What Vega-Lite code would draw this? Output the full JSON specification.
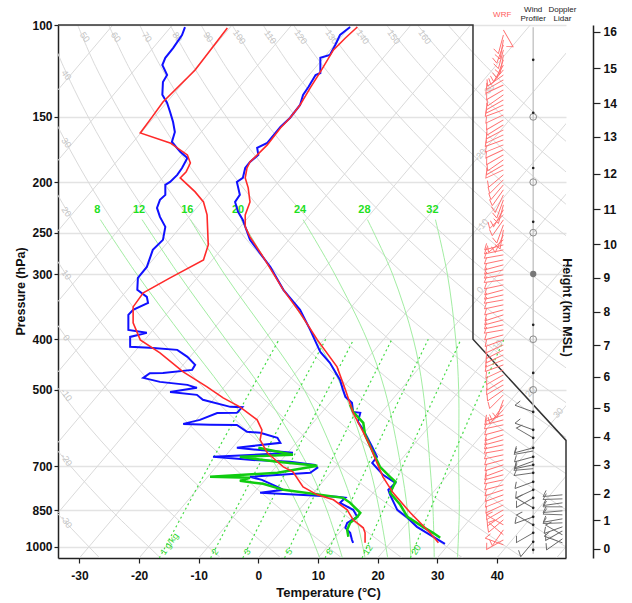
{
"$schema": "https://vega.github.io/schema/vega-lite/v6.json",
"width": 508, "height": 533,
"autosize": "none",
"padding": {"left": 58, "top": 25, "right": 66, "bottom": 45},
"background": "white",
"config": {
 "view": {"stroke": null},
 "font": "Liberation Sans",
 "axis": {"labelFont": "Liberation Sans", "titleFont": "Liberation Sans", "labelFontWeight": "bold", "labelFontSize": 12, "labelColor": "#111111", "titleFontWeight": "bold", "titleFontSize": 12.5, "titleColor": "#111111", "domainColor": "#222222", "domainWidth": 1.5, "tickColor": "#222222", "tickWidth": 1.2}
},
"datasets": {
 "iso": [
  {"T":-100,"p":1050,"u":-100},{"T":-100,"p":100,"u":-24.4},
  {"T":-90,"p":1050,"u":-90},{"T":-90,"p":100,"u":-14.4},
  {"T":-80,"p":1050,"u":-80},{"T":-80,"p":100,"u":-4.4},
  {"T":-70,"p":1050,"u":-70},{"T":-70,"p":100,"u":5.6},
  {"T":-60,"p":1050,"u":-60},{"T":-60,"p":100,"u":15.6},
  {"T":-50,"p":1050,"u":-50},{"T":-50,"p":100,"u":25.6},
  {"T":-40,"p":1050,"u":-40},{"T":-40,"p":100,"u":35.6},
  {"T":-30,"p":1050,"u":-30},{"T":-30,"p":100,"u":45.6},
  {"T":-20,"p":1050,"u":-20},{"T":-20,"p":100,"u":55.6},
  {"T":-10,"p":1050,"u":-10},{"T":-10,"p":100,"u":65.6},
  {"T":0,"p":1050,"u":0},{"T":0,"p":100,"u":75.6},
  {"T":10,"p":1050,"u":10},{"T":10,"p":100,"u":85.6},
  {"T":20,"p":1050,"u":20},{"T":20,"p":100,"u":95.6},
  {"T":30,"p":1050,"u":30},{"T":30,"p":100,"u":105.6},
  {"T":40,"p":1050,"u":40},{"T":40,"p":100,"u":115.6},
  {"T":50,"p":1050,"u":50},{"T":50,"p":100,"u":125.6}
 ],
 "isolab": [
  {"lab":"-30","p":133.2,"u":38.6},{"lab":"-20","p":177.4,"u":37.2},{"lab":"-10","p":241.5,"u":37.6},{"lab":"0","p":321.7,"u":37.2},
  {"lab":"10","p":410.0,"u":40.1},{"lab":"20","p":504.5,"u":45.6},{"lab":"30","p":553.5,"u":50.3}
 ],
 "dry": [
  {"th":-30,"p":1050,"u":-26.6},{"th":-30,"p":850,"u":-34.2},{"th":-30,"p":700,"u":-40.5},
  {"th":-20,"p":1050,"u":-16.4},{"th":-20,"p":850,"u":-24.7},{"th":-20,"p":700,"u":-31.5},{"th":-20,"p":550,"u":-39.0},
  {"th":-10,"p":1050,"u":-6.3},{"th":-10,"p":850,"u":-15.2},{"th":-10,"p":700,"u":-22.5},{"th":-10,"p":550,"u":-30.6},{"th":-10,"p":400,"u":-39.6},
  {"th":0,"p":1050,"u":3.8},{"th":0,"p":850,"u":-5.6},{"th":0,"p":700,"u":-13.5},{"th":0,"p":550,"u":-22.2},{"th":0,"p":400,"u":-32.0},{"th":0,"p":300,"u":-39.3},
  {"th":10,"p":1050,"u":14.0},{"th":10,"p":850,"u":3.9},{"th":10,"p":700,"u":-4.4},{"th":10,"p":550,"u":-13.7},{"th":10,"p":400,"u":-24.2},{"th":10,"p":300,"u":-32.3},{"th":10,"p":220,"u":-39.3},
  {"th":20,"p":1050,"u":24.1},{"th":20,"p":850,"u":13.5},{"th":20,"p":700,"u":4.6},{"th":20,"p":550,"u":-5.3},{"th":20,"p":400,"u":-16.5},{"th":20,"p":300,"u":-25.2},{"th":20,"p":220,"u":-32.8},{"th":20,"p":160,"u":-39.1},
  {"th":30,"p":1050,"u":34.3},{"th":30,"p":850,"u":23.0},{"th":30,"p":700,"u":13.6},{"th":30,"p":550,"u":3.1},{"th":30,"p":400,"u":-8.8},{"th":30,"p":300,"u":-18.1},{"th":30,"p":220,"u":-26.3},{"th":30,"p":160,"u":-33.2},{"th":30,"p":120,"u":-38.2},
  {"th":40,"p":1050,"u":44.4},{"th":40,"p":850,"u":32.6},{"th":40,"p":700,"u":22.6},{"th":40,"p":550,"u":11.6},{"th":40,"p":400,"u":-1.1},{"th":40,"p":300,"u":-11.0},{"th":40,"p":220,"u":-19.8},{"th":40,"p":160,"u":-27.2},{"th":40,"p":120,"u":-32.7},{"th":40,"p":100,"u":-35.5},
  {"th":50,"p":1050,"u":54.5},{"th":50,"p":850,"u":42.1},{"th":50,"p":700,"u":31.7},{"th":50,"p":550,"u":20.0},{"th":50,"p":400,"u":6.5},{"th":50,"p":300,"u":-3.9},{"th":50,"p":220,"u":-13.4},{"th":50,"p":160,"u":-21.3},{"th":50,"p":120,"u":-27.3},{"th":50,"p":100,"u":-30.3},
  {"th":60,"p":1050,"u":64.7},{"th":60,"p":850,"u":51.7},{"th":60,"p":700,"u":40.7},{"th":60,"p":550,"u":28.4},{"th":60,"p":400,"u":14.2},{"th":60,"p":300,"u":3.2},{"th":60,"p":220,"u":-6.9},{"th":60,"p":160,"u":-15.4},{"th":60,"p":120,"u":-21.8},{"th":60,"p":100,"u":-25.1},
  {"th":70,"p":850,"u":61.2},{"th":70,"p":700,"u":49.7},{"th":70,"p":550,"u":36.8},{"th":70,"p":400,"u":21.9},{"th":70,"p":300,"u":10.3},{"th":70,"p":220,"u":-0.4},{"th":70,"p":160,"u":-9.5},{"th":70,"p":120,"u":-16.4},{"th":70,"p":100,"u":-19.9},
  {"th":80,"p":700,"u":58.8},{"th":80,"p":550,"u":45.3},{"th":80,"p":400,"u":29.6},{"th":80,"p":300,"u":17.3},{"th":80,"p":220,"u":6.1},{"th":80,"p":160,"u":-3.6},{"th":80,"p":120,"u":-10.9},{"th":80,"p":100,"u":-14.8},
  {"th":90,"p":700,"u":67.8},{"th":90,"p":550,"u":53.7},{"th":90,"p":400,"u":37.3},{"th":90,"p":300,"u":24.4},{"th":90,"p":220,"u":12.6},{"th":90,"p":160,"u":2.4},{"th":90,"p":120,"u":-5.5},{"th":90,"p":100,"u":-9.6},
  {"th":100,"p":550,"u":62.1},{"th":100,"p":400,"u":45.0},{"th":100,"p":300,"u":31.5},{"th":100,"p":220,"u":19.1},{"th":100,"p":160,"u":8.3},{"th":100,"p":120,"u":0.0},{"th":100,"p":100,"u":-4.4},
  {"th":110,"p":550,"u":70.6},{"th":110,"p":400,"u":52.7},{"th":110,"p":300,"u":38.6},{"th":110,"p":220,"u":25.6},{"th":110,"p":160,"u":14.2},{"th":110,"p":120,"u":5.4},{"th":110,"p":100,"u":0.8},
  {"th":120,"p":400,"u":60.4},{"th":120,"p":300,"u":45.7},{"th":120,"p":220,"u":32.0},{"th":120,"p":160,"u":20.1},{"th":120,"p":120,"u":10.9},{"th":120,"p":100,"u":5.9},
  {"th":130,"p":400,"u":68.1},{"th":130,"p":300,"u":52.8},{"th":130,"p":220,"u":38.5},{"th":130,"p":160,"u":26.0},{"th":130,"p":120,"u":16.4},{"th":130,"p":100,"u":11.1},
  {"th":140,"p":300,"u":59.9},{"th":140,"p":220,"u":45.0},{"th":140,"p":160,"u":32.0},{"th":140,"p":120,"u":21.8},{"th":140,"p":100,"u":16.3},
  {"th":150,"p":300,"u":66.9},{"th":150,"p":220,"u":51.5},{"th":150,"p":160,"u":37.9},{"th":150,"p":120,"u":27.3},{"th":150,"p":100,"u":21.5},
  {"th":160,"p":220,"u":58.0},{"th":160,"p":160,"u":43.8},{"th":160,"p":120,"u":32.7},{"th":160,"p":100,"u":26.7},
  {"th":170,"p":220,"u":64.5},{"th":170,"p":160,"u":49.7},{"th":170,"p":120,"u":38.2},{"th":170,"p":100,"u":31.8}
 ],
 "drylab": [
  {"lab":"40","p":124.7},{"lab":"30","p":168.2},{"lab":"20","p":228.0},{"lab":"10","p":301.1},
  {"lab":"0","p":397.6},{"lab":"-10","p":511.2},{"lab":"-20","p":681.0},{"lab":"-30","p":895.2}
 ],
 "moist": [
  {"tw":8,"p":1050,"u":10.3},{"tw":8,"p":850,"u":7.0},{"tw":8,"p":700,"u":3.0},{"tw":8,"p":500,"u":-5.8},{"tw":8,"p":400,"u":-12.3},{"tw":8,"p":300,"u":-20.4},{"tw":8,"p":236,"u":-26.5},
  {"tw":12,"p":1050,"u":14.1},{"tw":12,"p":850,"u":11.5},{"tw":12,"p":700,"u":8.3},{"tw":12,"p":500,"u":0.7},{"tw":12,"p":400,"u":-5.5},{"tw":12,"p":300,"u":-13.4},{"tw":12,"p":236,"u":-19.5},
  {"tw":16,"p":1050,"u":17.9},{"tw":16,"p":850,"u":16.1},{"tw":16,"p":700,"u":13.5},{"tw":16,"p":500,"u":7.7},{"tw":16,"p":400,"u":2.1},{"tw":16,"p":300,"u":-5.7},{"tw":16,"p":236,"u":-11.4},
  {"tw":20,"p":1050,"u":21.7},{"tw":20,"p":850,"u":20.3},{"tw":20,"p":700,"u":18.6},{"tw":20,"p":500,"u":14.2},{"tw":20,"p":400,"u":9.7},{"tw":20,"p":300,"u":2.6},{"tw":20,"p":236,"u":-2.9},
  {"tw":24,"p":1050,"u":25.6},{"tw":24,"p":850,"u":25.0},{"tw":24,"p":700,"u":23.9},{"tw":24,"p":500,"u":21.2},{"tw":24,"p":400,"u":18.2},{"tw":24,"p":300,"u":12.8},{"tw":24,"p":236,"u":7.5},
  {"tw":28,"p":1050,"u":29.5},{"tw":28,"p":850,"u":29.3},{"tw":28,"p":700,"u":28.8},{"tw":28,"p":500,"u":27.6},{"tw":28,"p":400,"u":26.0},{"tw":28,"p":300,"u":22.5},{"tw":28,"p":236,"u":18.3},
  {"tw":32,"p":1050,"u":33.4},{"tw":32,"p":850,"u":33.7},{"tw":32,"p":700,"u":33.6},{"tw":32,"p":500,"u":33.6},{"tw":32,"p":400,"u":33.1},{"tw":32,"p":300,"u":31.7},{"tw":32,"p":236,"u":29.7}
 ],
 "mix": [
  {"w":1,"p":1050,"u":-16.6},{"w":1,"p":700,"u":-8.3},{"w":1,"p":400,"u":3.5},
  {"w":2,"p":1050,"u":-8.0},{"w":2,"p":700,"u":0.0},{"w":2,"p":400,"u":11.3},
  {"w":3,"p":1050,"u":-2.6},{"w":3,"p":700,"u":5.1},{"w":3,"p":400,"u":16.0},
  {"w":5,"p":1050,"u":4.4},{"w":5,"p":700,"u":11.8},{"w":5,"p":400,"u":22.4},
  {"w":8,"p":1050,"u":11.2},{"w":8,"p":700,"u":18.3},{"w":8,"p":400,"u":28.5},
  {"w":12,"p":1050,"u":17.4},{"w":12,"p":700,"u":24.2},{"w":12,"p":400,"u":34.0},
  {"w":20,"p":1050,"u":25.5},{"w":20,"p":700,"u":31.9},{"w":20,"p":400,"u":41.2}
 ],
 "bT": [
  {"p":100.9,"u":15.4},{"p":104.5,"u":13.7},{"p":109.2,"u":12.9},{"p":114.1,"u":12.0},{"p":115.6,"u":10.4},{"p":123.6,"u":10.4},{"p":124.7,"u":9.6},{"p":131.5,"u":8.4},{"p":136.1,"u":7.5},{"p":142.3,"u":7.0},{"p":150.7,"u":5.3},{"p":156.8,"u":3.7},{"p":168.2,"u":1.5},{"p":172.0,"u":-0.2},{"p":177.4,"u":0.0},{"p":183.0,"u":-1.4},{"p":187.9,"u":-2.2},{"p":196.3,"u":-2.6},{"p":199.8,"u":-3.6},{"p":211.6,"u":-3.1},{"p":218.3,"u":-3.9},{"p":228.0,"u":-3.4},{"p":236.3,"u":-2.6},{"p":258.0,"u":-1.4},{"p":290.7,"u":2.0},{"p":321.7,"u":4.2},{"p":351.4,"u":7.0},{"p":383.8,"u":8.7},{"p":413.6,"u":10.0},{"p":422.9,"u":10.4},{"p":443.9,"u":12.0},{"p":478.6,"u":13.7},{"p":500.1,"u":14.2},{"p":515.7,"u":14.6},{"p":529.6,"u":15.7},{"p":551.1,"u":15.9},{"p":553.5,"u":17.1},{"p":575.9,"u":16.7},{"p":596.5,"u":17.6},{"p":617.9,"u":18.3},{"p":643.0,"u":19.1},{"p":672.0,"u":19.9},{"p":690.1,"u":19.1},{"p":727.5,"u":20.9},{"p":753.7,"u":23.0},{"p":777.3,"u":21.8},{"p":794.6,"u":22.1},{"p":849.0,"u":23.3},{"p":879.5,"u":25.0},{"p":915.1,"u":26.6},{"p":947.9,"u":28.8},{"p":986.4,"u":31.3}
 ],
 "bTd": [
  {"p":100.9,"u":-12.3},{"p":104.5,"u":-12.8},{"p":110.7,"u":-14.3},{"p":115.6,"u":-15.6},{"p":119.3,"u":-16.1},{"p":124.7,"u":-15.3},{"p":128.6,"u":-16.0},{"p":136.1,"u":-16.1},{"p":141.0,"u":-15.3},{"p":146.8,"u":-14.8},{"p":153.4,"u":-14.3},{"p":160.3,"u":-14.0},{"p":167.5,"u":-14.5},{"p":175.0,"u":-13.1},{"p":179.8,"u":-11.9},{"p":187.9,"u":-12.8},{"p":193.7,"u":-13.6},{"p":199.8,"u":-14.8},{"p":202.4,"u":-15.6},{"p":211.6,"u":-15.6},{"p":216.3,"u":-16.5},{"p":224.1,"u":-17.0},{"p":233.2,"u":-16.5},{"p":243.6,"u":-15.6},{"p":258.0,"u":-16.0},{"p":269.7,"u":-17.7},{"p":290.7,"u":-18.7},{"p":305.1,"u":-20.2},{"p":321.7,"u":-20.3},{"p":331.8,"u":-18.7},{"p":340.7,"u":-18.5},{"p":351.4,"u":-21.0},{"p":359.2,"u":-21.8},{"p":383.8,"u":-21.8},{"p":388.9,"u":-18.7},{"p":395.9,"u":-21.5},{"p":413.6,"u":-21.5},{"p":415.5,"u":-18.2},{"p":419.2,"u":-13.6},{"p":432.3,"u":-11.9},{"p":447.9,"u":-10.6},{"p":457.9,"u":-11.1},{"p":464.0,"u":-16.0},{"p":464.5,"u":-18.2},{"p":474.3,"u":-19.3},{"p":482.8,"u":-16.5},{"p":489.2,"u":-11.9},{"p":495.7,"u":-10.3},{"p":504.6,"u":-14.8},{"p":511.2,"u":-10.3},{"p":522.6,"u":-9.3},{"p":539.0,"u":-4.7},{"p":540.0,"u":-2.7},{"p":553.5,"u":-3.6},{"p":554.0,"u":-6.9},{"p":570.9,"u":-9.8},{"p":581.1,"u":-12.6},{"p":583.0,"u":-8.1},{"p":584.0,"u":-3.6},{"p":601.8,"u":-1.9},{"p":604.5,"u":0.3},{"p":617.9,"u":3.2},{"p":631.7,"u":3.7},{"p":645.8,"u":-3.6},{"p":651.5,"u":-0.2},{"p":660.2,"u":5.8},{"p":672.0,"u":-7.6},{"p":681.0,"u":-1.4},{"p":687.0,"u":5.3},{"p":696.1,"u":9.5},{"p":705.4,"u":9.9},{"p":721.2,"u":8.7},{"p":734.0,"u":-1.4},{"p":743.8,"u":0.6},{"p":767.1,"u":3.2},{"p":777.3,"u":4.2},{"p":787.7,"u":0.3},{"p":801.7,"u":13.2},{"p":805.2,"u":14.6},{"p":823.2,"u":13.7},{"p":849.0,"u":15.9},{"p":875.6,"u":16.6},{"p":899.1,"u":14.9},{"p":919.1,"u":14.6},{"p":939.7,"u":15.4},{"p":969.1,"u":15.7},{"p":982.0,"u":15.9}
 ],
 "rT": [
  {"p":100.9,"u":16.6},{"p":105.9,"u":14.6},{"p":111.6,"u":12.6},{"p":123.0,"u":10.4},{"p":132.0,"u":8.7},{"p":142.3,"u":7.0},{"p":150.7,"u":5.3},{"p":157.5,"u":3.7},{"p":169.7,"u":1.5},{"p":183.0,"u":-1.4},{"p":187.9,"u":-1.9},{"p":196.3,"u":-2.2},{"p":205.1,"u":-1.7},{"p":218.3,"u":-1.4},{"p":231.1,"u":-2.2},{"p":243.6,"u":-2.2},{"p":254.6,"u":-1.4},{"p":278.1,"u":0.8},{"p":321.7,"u":4.2},{"p":356.1,"u":7.0},{"p":401.2,"u":9.9},{"p":451.9,"u":13.2},{"p":500.1,"u":14.6},{"p":553.5,"u":15.9},{"p":596.5,"u":17.4},{"p":643.0,"u":18.8},{"p":690.1,"u":19.9},{"p":734.0,"u":20.9},{"p":787.7,"u":22.6},{"p":860.3,"u":25.5},{"p":939.7,"u":28.8},{"p":982.0,"u":30.2}
 ],
 "rTd": [
  {"p":101.3,"u":-5.2},{"p":122.0,"u":-10.6},{"p":140.4,"u":-16.0},{"p":150.0,"u":-17.8},{"p":161.0,"u":-19.8},{"p":168.2,"u":-14.8},{"p":177.4,"u":-11.9},{"p":183.8,"u":-11.4},{"p":191.0,"u":-12.1},{"p":196.3,"u":-13.1},{"p":208.8,"u":-10.6},{"p":218.3,"u":-9.2},{"p":231.1,"u":-8.6},{"p":263.8,"u":-8.4},{"p":281.9,"u":-9.2},{"p":305.1,"u":-14.8},{"p":326.0,"u":-19.3},{"p":346.8,"u":-21.0},{"p":372.1,"u":-21.0},{"p":401.2,"u":-19.8},{"p":424.8,"u":-16.5},{"p":462.0,"u":-12.6},{"p":493.5,"u":-8.6},{"p":518.0,"u":-5.9},{"p":539.0,"u":-3.1},{"p":570.9,"u":-0.2},{"p":596.5,"u":0.6},{"p":623.4,"u":0.3},{"p":660.2,"u":1.5},{"p":702.3,"u":4.2},{"p":718.0,"u":5.8},{"p":767.1,"u":7.5},{"p":794.6,"u":9.9},{"p":812.4,"u":12.6},{"p":849.0,"u":14.9},{"p":887.3,"u":15.9},{"p":919.1,"u":17.6},{"p":939.7,"u":17.9},{"p":982.0,"u":17.9}
 ],
 "gT": [
  {"p":534.3,"u":15.4},{"p":551.1,"u":15.9},{"p":578.5,"u":17.6},{"p":609.8,"u":17.9},{"p":643.0,"u":18.8},{"p":702.3,"u":20.4},{"p":734.0,"u":22.1},{"p":750.4,"u":23.0},{"p":787.7,"u":22.1},{"p":830.4,"u":23.8},{"p":875.6,"u":25.0},{"p":915.1,"u":27.6},{"p":939.7,"u":29.3},{"p":960.6,"u":30.5}
 ],
 "gTd": [
  {"p":645.8,"u":0.0},{"p":666.1,"u":5.8},{"p":672.0,"u":-3.1},{"p":687.0,"u":3.2},{"p":699.2,"u":9.9},{"p":721.2,"u":3.2},{"p":734.0,"u":-8.1},{"p":737.2,"u":-1.4},{"p":747.1,"u":-3.1},{"p":757.0,"u":0.8},{"p":777.3,"u":4.2},{"p":805.2,"u":14.2},{"p":823.2,"u":15.4},{"p":860.3,"u":17.1},{"p":875.6,"u":16.6},{"p":899.1,"u":15.4},{"p":927.2,"u":14.9},{"p":956.3,"u":15.1}
 ],
 "frame": [
  {"u":-33.6,"p":100},{"u":36.0,"p":100},{"u":36.0,"p":400},{"u":51.6,"p":625},{"u":51.6,"p":1050}
 ],
 "wrf": [
  {"p":102.2,"dir":150},{"p":104.5,"dir":195},{"p":106.8,"dir":190},{"p":109.2,"dir":200},{"p":111.6,"dir":195},{"p":114.1,"dir":190},{"p":116.6,"dir":200},{"p":119.3,"dir":210},{"p":121.9,"dir":220},
  {"p":124.7,"dir":235},{"p":127.4,"dir":240},{"p":130.3,"dir":245},{"p":133.2,"dir":240},{"p":136.1,"dir":235},{"p":139.2,"dir":240},{"p":142.3,"dir":245},{"p":145.4,"dir":250},{"p":148.7,"dir":245},{"p":152.0,"dir":240},{"p":155.4,"dir":238},{"p":158.8,"dir":242},{"p":162.4,"dir":245},{"p":166.0,"dir":250},{"p":169.7,"dir":248},{"p":173.4,"dir":245},{"p":177.4,"dir":240},{"p":181.3,"dir":235},{"p":185.4,"dir":240},{"p":189.5,"dir":245},{"p":193.7,"dir":230},{"p":198.0,"dir":225},{"p":202.4,"dir":220},{"p":206.9,"dir":215},
  {"p":211.6,"dir":205},{"p":216.3,"dir":200},{"p":221.1,"dir":195},{"p":226.0,"dir":210},{"p":231.1,"dir":225},{"p":236.2,"dir":215},{"p":241.5,"dir":200},{"p":246.9,"dir":190},{"p":252.4,"dir":205},{"p":258.0,"dir":230},
  {"p":263.8,"dir":255},{"p":269.7,"dir":258},{"p":275.7,"dir":260},{"p":281.9,"dir":258},{"p":288.1,"dir":255},{"p":294.5,"dir":257},{"p":301.1,"dir":260},{"p":307.8,"dir":262},{"p":314.7,"dir":258},{"p":321.7,"dir":255},{"p":328.9,"dir":257},{"p":336.3,"dir":260},{"p":343.7,"dir":258},{"p":351.4,"dir":255},{"p":359.2,"dir":252},{"p":367.2,"dir":255},{"p":375.4,"dir":258},{"p":383.8,"dir":260},{"p":392.4,"dir":255},
  {"p":401.2,"dir":250},{"p":410.0,"dir":245},{"p":419.2,"dir":243},{"p":428.5,"dir":245},{"p":438.1,"dir":248},{"p":447.9,"dir":250},{"p":457.9,"dir":245},{"p":468.1,"dir":240},{"p":478.6,"dir":238},{"p":489.2,"dir":240},{"p":500.1,"dir":235},{"p":511.2,"dir":225},
  {"p":522.6,"dir":200},{"p":534.3,"dir":215},{"p":546.2,"dir":225},
  {"p":558.4,"dir":250},{"p":570.9,"dir":255},{"p":583.5,"dir":258},{"p":596.5,"dir":255},{"p":609.8,"dir":252},{"p":623.4,"dir":255},{"p":637.3,"dir":258},{"p":651.5,"dir":260},{"p":666.1,"dir":258},{"p":681.0,"dir":255},{"p":696.1,"dir":252},{"p":711.6,"dir":250},{"p":727.5,"dir":255},{"p":743.8,"dir":258},{"p":760.3,"dir":255},{"p":777.3,"dir":252},{"p":794.6,"dir":250},{"p":812.4,"dir":248},{"p":830.4,"dir":245},{"p":849.0,"dir":240},{"p":867.9,"dir":235},
  {"p":887.3,"dir":230},{"p":907.0,"dir":300},{"p":927.3,"dir":215},{"p":947.9,"dir":310},{"p":969.1,"dir":240},{"p":990.7,"dir":290}
 ],
 "prof": [
  {"p":551.1,"dir":290},{"p":596.5,"dir":290},{"p":617.9,"dir":300},{"p":645.8,"dir":255},{"p":655.0,"dir":260},{"p":672.0,"dir":255},{"p":685.0,"dir":250},{"p":696.1,"dir":258},{"p":708.0,"dir":265},{"p":721.2,"dir":262},{"p":750.4,"dir":250},{"p":777.3,"dir":245},{"p":805.2,"dir":240},{"p":841.5,"dir":300},{"p":875.6,"dir":250},{"p":907.0,"dir":300},{"p":939.7,"dir":240},{"p":977.7,"dir":220}
 ],
 "lidar": [
  {"p":794.6,"dir":265},{"p":808.8,"dir":268},{"p":823.2,"dir":262},{"p":837.8,"dir":270},{"p":852.7,"dir":265},{"p":867.9,"dir":272},{"p":883.4,"dir":260},{"p":899.1,"dir":268},{"p":915.1,"dir":250},{"p":931.4,"dir":240},{"p":947.9,"dir":300},{"p":964.8,"dir":235},{"p":982.0,"dir":290}
 ],
 "pcirc": [{"p":150},{"p":200},{"p":250},{"p":400},{"p":500}],
 "pfill": [{"p":300}],
 "pdots": [
  {"p":116.6},{"p":147.3},{"p":187.9},{"p":238.3},{"p":375.4},{"p":464.0},{"p":551.1},{"p":596.5},{"p":617.9},{"p":645.8},{"p":672.0},{"p":696.1},{"p":721.2},{"p":750.4},{"p":777.3},{"p":805.2},{"p":841.5},{"p":875.6},{"p":907.0},{"p":939.7},{"p":977.7},{"p":1012.8}
 ]
},
"layer": [
 {
  "layer": [
   {"data": {"name": "iso"}, "mark": {"type": "line", "clip": true, "color": "#dadada", "strokeWidth": 1},
    "encoding": {
     "x": {"field": "u", "type": "quantitative", "scale": {"domain": [-33.6, 51.6], "nice": false, "zero": false},
           "axis": {"values": [-30,-20,-10,0,10,20,30,40], "labelExpr": "'' + datum.value", "title": "Temperature (°C)", "grid": false, "tickSize": 5, "labelPadding": 7, "titleX": 270, "titleY": 34, "titleBaseline": "middle", "titleFontSize": 13}},
     "y": {"field": "p", "type": "quantitative", "scale": {"type": "log", "domain": [100, 1050], "reverse": true, "nice": false},
           "axis": {"values": [100,150,200,250,300,400,500,700,850,1000], "labelExpr": "'' + datum.value", "title": "Pressure (hPa)", "grid": true, "gridColor": "#e3e3e3", "gridWidth": 1.5, "tickSize": 4, "labelPadding": 2, "titleX": -38, "titleY": 266, "titleAngle": -90, "titleAlign": "center", "titleBaseline": "middle"}},
     "detail": {"field": "T", "type": "nominal"}, "order": {"value": null}}},
   {"data": {"name": "dry"}, "mark": {"type": "line", "clip": true, "color": "#dadada", "strokeWidth": 1, "interpolate": "catmull-rom"}, "encoding": {"x": {"field": "u", "type": "quantitative"}, "y": {"field": "p", "type": "quantitative"}, "detail": {"field": "th", "type": "nominal"}, "order": {"value": null}}},
   {"data": {"name": "moist"}, "mark": {"type": "line", "clip": true, "color": "#a3eda3", "strokeWidth": 1, "interpolate": "catmull-rom"}, "encoding": {"x": {"field": "u", "type": "quantitative"}, "y": {"field": "p", "type": "quantitative"}, "detail": {"field": "tw", "type": "nominal"}, "order": {"value": null}}},
   {"data": {"name": "mix"}, "mark": {"type": "line", "clip": true, "color": "#45dc45", "strokeWidth": 1.2, "strokeDash": [2, 3], "interpolate": "catmull-rom"}, "encoding": {"x": {"field": "u", "type": "quantitative"}, "y": {"field": "p", "type": "quantitative"}, "detail": {"field": "w", "type": "nominal"}, "order": {"value": null}}},
   {"data": {"name": "dry"}, "transform": [{"filter": "datum.p == 100 && datum.th >= 50 && datum.th <= 160"}], "mark": {"type": "text", "angle": 55, "dx": 14, "dy": 1, "fontSize": 9, "color": "#c4c4c4", "align": "center", "baseline": "middle"}, "encoding": {"x": {"field": "u", "type": "quantitative"}, "y": {"field": "p", "type": "quantitative"}, "text": {"field": "th", "type": "quantitative"}}},
   {"data": {"name": "drylab"}, "mark": {"type": "text", "angle": 55, "fontSize": 9, "color": "#c4c4c4", "align": "center", "baseline": "middle"}, "encoding": {"x": {"datum": -32.2}, "y": {"field": "p", "type": "quantitative"}, "text": {"field": "lab", "type": "nominal"}}},
   {"data": {"name": "isolab"}, "mark": {"type": "text", "angle": -50, "fontSize": 9, "color": "#c4c4c4", "align": "center", "baseline": "middle"}, "encoding": {"x": {"field": "u", "type": "quantitative"}, "y": {"field": "p", "type": "quantitative"}, "text": {"field": "lab", "type": "nominal"}}},
   {"data": {"name": "moist"}, "transform": [{"filter": "datum.p == 236"}], "mark": {"type": "text", "dx": -3, "dy": -10, "fontSize": 11, "fontWeight": "bold", "color": "#1fe01f", "align": "center", "baseline": "middle"}, "encoding": {"x": {"field": "u", "type": "quantitative"}, "y": {"field": "p", "type": "quantitative"}, "text": {"field": "tw", "type": "quantitative"}}},
   {"data": {"name": "mix"}, "transform": [{"filter": "datum.p == 1050"}], "mark": {"type": "text", "angle": -55, "dx": 5, "dy": 0, "fontSize": 9, "color": "#2bd62b", "align": "left", "baseline": "middle"}, "encoding": {"x": {"field": "u", "type": "quantitative"}, "y": {"field": "p", "type": "quantitative"}, "text": {"condition": {"test": "datum.w == 1", "value": "1 g/kg"}, "field": "w", "type": "quantitative"}}},
   {"data": {"name": "bTd"}, "mark": {"type": "line", "clip": true, "color": "#1010ff", "strokeWidth": 2}, "encoding": {"x": {"field": "u", "type": "quantitative"}, "y": {"field": "p", "type": "quantitative"}, "order": {"value": null}}},
   {"data": {"name": "bT"}, "mark": {"type": "line", "clip": true, "color": "#1010ff", "strokeWidth": 2}, "encoding": {"x": {"field": "u", "type": "quantitative"}, "y": {"field": "p", "type": "quantitative"}, "order": {"value": null}}},
   {"data": {"name": "gTd"}, "mark": {"type": "line", "clip": true, "color": "#10cc10", "strokeWidth": 2.5}, "encoding": {"x": {"field": "u", "type": "quantitative"}, "y": {"field": "p", "type": "quantitative"}, "order": {"value": null}}},
   {"data": {"name": "gT"}, "mark": {"type": "line", "clip": true, "color": "#10cc10", "strokeWidth": 2.5}, "encoding": {"x": {"field": "u", "type": "quantitative"}, "y": {"field": "p", "type": "quantitative"}, "order": {"value": null}}},
   {"data": {"name": "rTd"}, "mark": {"type": "line", "clip": true, "color": "#ff2a2a", "strokeWidth": 1.6}, "encoding": {"x": {"field": "u", "type": "quantitative"}, "y": {"field": "p", "type": "quantitative"}, "order": {"value": null}}},
   {"data": {"name": "rT"}, "mark": {"type": "line", "clip": true, "color": "#ff2a2a", "strokeWidth": 1.6}, "encoding": {"x": {"field": "u", "type": "quantitative"}, "y": {"field": "p", "type": "quantitative"}, "order": {"value": null}}},
   {"data": {"name": "frame"}, "mark": {"type": "line", "color": "#333333", "strokeWidth": 1.5}, "encoding": {"x": {"field": "u", "type": "quantitative"}, "y": {"field": "p", "type": "quantitative"}, "order": {"value": null}}},
   {"data": {"values": [{}]}, "mark": {"type": "rule", "color": "#c8c8c8", "strokeWidth": 1.5}, "encoding": {"x": {"datum": 46.1}, "y": {"datum": 101}, "y2": {"datum": 1030}}},
   {"data": {"name": "wrf"}, "mark": {"type": "point", "shape": "M0,0L0,-1L0.3,-0.82", "filled": false, "stroke": "#ff7070", "strokeWidth": 0.9, "size": 1500, "opacity": 1}, "encoding": {"x": {"datum": 41.1}, "y": {"field": "p", "type": "quantitative"}, "angle": {"field": "dir", "type": "quantitative", "scale": null}}},
   {"data": {"name": "prof"}, "mark": {"type": "point", "shape": "M0,0L0,-1L0.3,-0.82", "filled": false, "stroke": "#666666", "strokeWidth": 0.9, "size": 1500, "opacity": 1}, "encoding": {"x": {"datum": 46.1}, "y": {"field": "p", "type": "quantitative"}, "angle": {"field": "dir", "type": "quantitative", "scale": null}}},
   {"data": {"name": "lidar"}, "mark": {"type": "point", "shape": "M0,0L0,-1L0.3,-0.82", "filled": false, "stroke": "#666666", "strokeWidth": 0.9, "size": 1500, "opacity": 1}, "encoding": {"x": {"datum": 51.0}, "y": {"field": "p", "type": "quantitative"}, "angle": {"field": "dir", "type": "quantitative", "scale": null}}},
   {"data": {"name": "pcirc"}, "mark": {"type": "point", "shape": "circle", "filled": false, "stroke": "#8a8a8a", "strokeWidth": 1, "size": 45, "opacity": 1}, "encoding": {"x": {"datum": 46.1}, "y": {"field": "p", "type": "quantitative"}}},
   {"data": {"name": "pfill"}, "mark": {"type": "point", "shape": "circle", "filled": true, "fill": "#777777", "size": 40, "opacity": 1}, "encoding": {"x": {"datum": 46.1}, "y": {"field": "p", "type": "quantitative"}}},
   {"data": {"name": "pdots"}, "mark": {"type": "point", "shape": "circle", "filled": true, "fill": "#222222", "size": 7, "opacity": 1}, "encoding": {"x": {"datum": 46.1}, "y": {"field": "p", "type": "quantitative"}}},
   {"data": {"values": [{}]}, "mark": {"type": "text", "text": "WRF", "fontSize": 8, "color": "#ff5a5a", "align": "center", "baseline": "middle"}, "encoding": {"x": {"datum": 40.9}, "y": {"datum": 95.7}}},
   {"data": {"values": [{}]}, "mark": {"type": "text", "text": "Wind", "fontSize": 8, "color": "#222222", "align": "center", "baseline": "middle"}, "encoding": {"x": {"datum": 46.1}, "y": {"datum": 93.6}}},
   {"data": {"values": [{}]}, "mark": {"type": "text", "text": "Profiler", "fontSize": 8, "color": "#222222", "align": "center", "baseline": "middle"}, "encoding": {"x": {"datum": 46.1}, "y": {"datum": 97.4}}},
   {"data": {"values": [{}]}, "mark": {"type": "text", "text": "Doppler", "fontSize": 8, "color": "#222222", "align": "center", "baseline": "middle"}, "encoding": {"x": {"datum": 51.0}, "y": {"datum": 93.6}}},
   {"data": {"values": [{}]}, "mark": {"type": "text", "text": "Lidar", "fontSize": 8, "color": "#222222", "align": "center", "baseline": "middle"}, "encoding": {"x": {"datum": 51.0}, "y": {"datum": 97.4}}}
  ]
 },
 {
  "data": {"values": [{}]},
  "mark": {"type": "point", "opacity": 0},
  "encoding": {
   "x": {"datum": 0},
   "y": {"datum": 500, "type": "quantitative", "scale": {"type": "log", "domain": [100, 1050], "reverse": true, "nice": false},
         "axis": {"orient": "right", "offset": 27, "values": [1008.9,889.7,791.4,696.6,615.5,541.7,472.5,410.3,354.6,305.3,262.8,225.2,192.9,163.9,141.1,120.9,103.1],
                  "labelExpr": "'' + indexof([1008.9,889.7,791.4,696.6,615.5,541.7,472.5,410.3,354.6,305.3,262.8,225.2,192.9,163.9,141.1,120.9,103.1], datum.value)",
                  "title": "Height (km MSL)", "titleAngle": 90, "titleX": -27, "titleY": 282, "titleAlign": "center", "titleBaseline": "middle", "tickSize": 7, "labelPadding": 3, "grid": false, "labelAlign": "left"}}
  }
 }
],
"resolve": {"scale": {"y": "independent"}}
}
